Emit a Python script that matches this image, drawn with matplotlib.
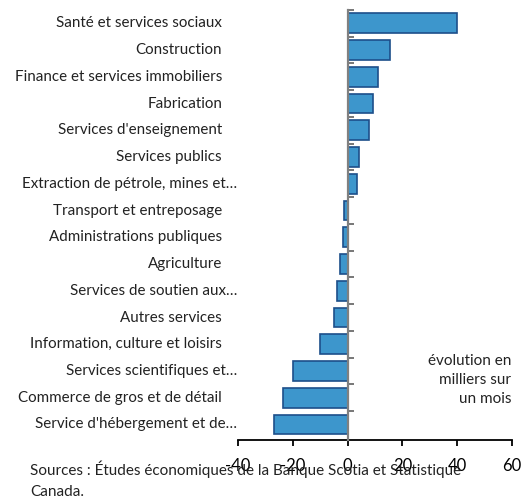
import numpy as np
import matplotlib.pyplot as plt
from matplotlib import transforms

plt.rcParams['font.family'] = ['Lato', 'DejaVu Sans']

sectors = [
    "Santé et services sociaux",
    "Construction",
    "Finance et services immobiliers",
    "Fabrication",
    "Services d'enseignement",
    "Services publics",
    "Extraction de pétrole, mines et…",
    "Transport et entreposage",
    "Administrations publiques",
    "Agriculture",
    "Services de soutien aux…",
    "Autres services",
    "Information, culture et loisirs",
    "Services scientifiques et…",
    "Commerce de gros et de détail",
    "Service d'hébergement et de…",
]
changes = [40.0, 15.5, 11.1, 9.3, 7.8, 4.3, 3.5, -1.3, -1.6, -2.7,
           -3.9, -4.9, -10.0, -20.1, -23.4, -26.9]
x_ticks = [-40, -20, 0, 20, 40, 60]

fig = plt.figure(figsize=(5.21, 5.01), dpi=100)
ax = fig.add_axes([238 / 521, 61 / 501, 274 / 521, 430 / 501])

y = np.arange(len(sectors))
ax.barh(y, changes, height=0.74, color='#3d96cc', edgecolor='#1d4f8a', linewidth=1.2, zorder=2)

ax.set_xlim(-40, 60)
ax.set_ylim(15.58, -0.5)

# vertical zero line acts as the category axis
ax.spines['left'].set_position(('data', 0))
ax.spines['left'].set_color('#808080')
ax.spines['left'].set_linewidth(1.6)
ax.spines['left'].set_zorder(3)
ax.spines['right'].set_visible(False)
ax.spines['top'].set_visible(False)
ax.spines['bottom'].set_linewidth(1.3)

ax.yaxis.set_ticks_position('left')
ax.set_yticks(np.arange(-0.5, 15, 1))
ax.set_yticklabels([])
ax.tick_params(axis='y', direction='in', length=4, width=1.2, color='#606060')

ax.set_xticks(x_ticks)
ax.set_xticklabels([str(v) for v in x_ticks])
ax.tick_params(axis='x', direction='out', length=4, width=1.3, labelsize=12, pad=9, color='black')

# category labels; truncated names sit a little further right, as in the source
trans = transforms.blended_transform_factory(ax.transAxes, ax.transData)
for yi, name in zip(y, sectors):
    xpos = -0.003 if name.endswith("…") else -0.058
    ax.text(xpos, yi, name, transform=trans, ha='right', va='center', fontsize=10.9, color='#222222')

ax.text(0.998, 0.2, "évolution en\nmilliers sur\nun mois", transform=ax.transAxes,
        ha='right', va='top', fontsize=11, linespacing=1.45, color='#222222')

fig.text(30 / 521, 1 - 461 / 501, "Sources : Études économiques de la Banque Scotia et Statistique\nCanada.",
         ha='left', va='top', fontsize=11, linespacing=1.55, color='#222222')

fig.savefig('out.png', dpi=100)
